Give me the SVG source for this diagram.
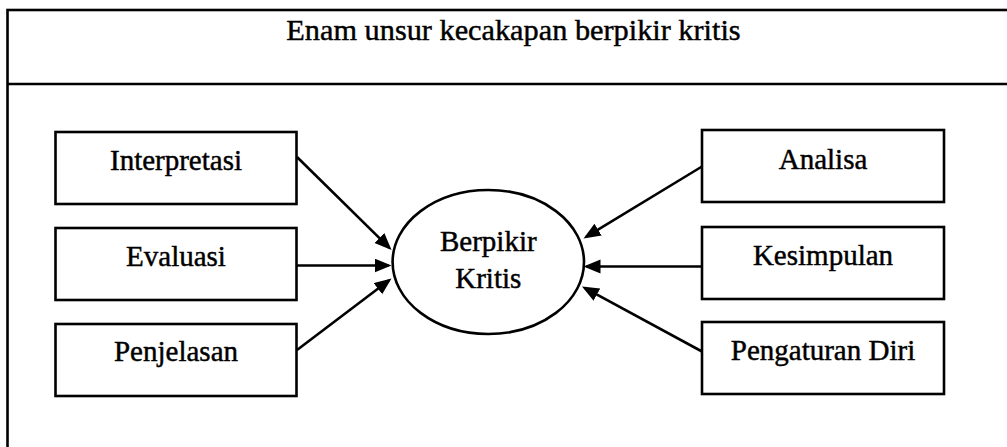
<svg xmlns="http://www.w3.org/2000/svg" width="1007" height="447" viewBox="0 0 1007 447">
  <style>
    .frame { fill: none; stroke: #000; stroke-width: 2.6; }
    .box { fill: #fff; stroke: #000; stroke-width: 2.6; }
    .label { font-family: "Liberation Serif", "Times New Roman", serif; font-size: 29px; fill: #000; stroke: #000; stroke-width: 0.45; text-anchor: middle; }
    .title { font-family: "Liberation Serif", "Times New Roman", serif; font-size: 30.3px; fill: #000; stroke: #000; stroke-width: 0.45; text-anchor: middle; }
    .link { stroke: #000; stroke-width: 2.6; fill: none; marker-end: url(#arrow); }
  </style>
  <defs>
    <marker id="arrow" markerUnits="userSpaceOnUse" markerWidth="18" markerHeight="15" refX="14" refY="7" orient="auto">
      <path d="M0,0 L17,7 L0,14 z" fill="#000"/>
    </marker>
  </defs>

  <rect width="1007" height="447" fill="#fff"/>

  <!-- outer frame with header row -->
  <g id="frame">
    <rect class="frame" x="7.5" y="10" width="1010" height="450"/>
    <line class="frame" x1="7.5" y1="84" x2="1010" y2="84"/>
    <text class="title" x="513.5" y="40">Enam unsur kecakapan berpikir kritis</text>
  </g>

  <g id="interpretasi">
    <rect class="box" x="55.5" y="132" width="241" height="72"/>
    <text class="label" x="176" y="170">Interpretasi</text>
  </g>
  <g id="evaluasi">
    <rect class="box" x="55.5" y="228" width="241" height="72"/>
    <text class="label" x="176" y="265.5">Evaluasi</text>
  </g>
  <g id="penjelasan">
    <rect class="box" x="55.5" y="324" width="241" height="72"/>
    <text class="label" x="176" y="360.5">Penjelasan</text>
  </g>

  <g id="analisa">
    <rect class="box" x="702" y="130" width="242" height="72"/>
    <text class="label" x="823" y="168.5">Analisa</text>
  </g>
  <g id="kesimpulan">
    <rect class="box" x="702" y="227" width="242" height="72"/>
    <text class="label" x="823" y="265">Kesimpulan</text>
  </g>
  <g id="pengaturan-diri">
    <rect class="box" x="702" y="322" width="242" height="72"/>
    <text class="label" x="823" y="359.5">Pengaturan Diri</text>
  </g>

  <g id="berpikir-kritis">
    <ellipse class="box" cx="488.3" cy="262" rx="95.7" ry="72"/>
    <text class="label" x="488.3" y="250.5">Berpikir</text>
    <text class="label" x="488.3" y="288">Kritis</text>
  </g>

  <!-- connectors into the centre ellipse -->
  <g id="connectors">
    <line class="link" x1="297" y1="157" x2="389.4" y2="247.9"/>
    <line class="link" x1="297" y1="265.5" x2="388.5" y2="265.5"/>
    <line class="link" x1="297" y1="350" x2="389.1" y2="280.3"/>
    <line class="link" x1="702" y1="166.5" x2="586.1" y2="236.9"/>
    <line class="link" x1="702" y1="266.5" x2="586.5" y2="266.5"/>
    <line class="link" x1="702" y1="351.5" x2="584.6" y2="287.9"/>
  </g>
</svg>
